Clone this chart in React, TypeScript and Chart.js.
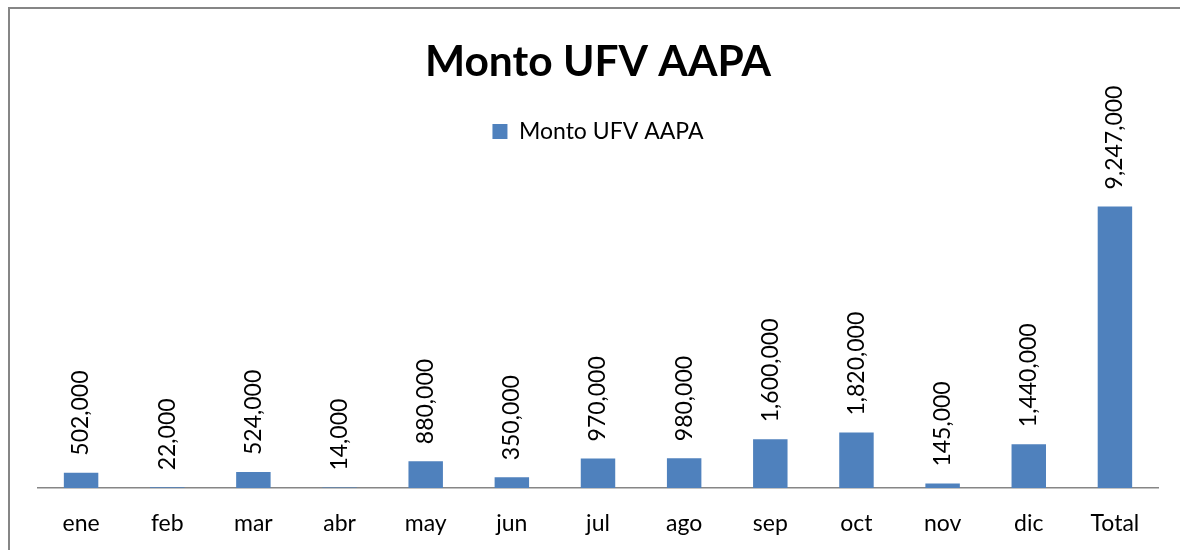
import React, { useEffect, useRef } from "react";
import { Chart, registerables } from "chart.js";

Chart.register(...registerables);

const categories = ["ene", "feb", "mar", "abr", "may", "jun", "jul", "ago", "sep", "oct", "nov", "dic", "Total"];
const montoValues = [502000, 22000, 524000, 14000, 880000, 350000, 970000, 980000, 1600000, 1820000, 145000, 1440000, 9247000];
const seriesName = "Monto UFV AAPA";
const chartTitle = "Monto UFV AAPA";
const yAxisMax = 11000000;

const FONT = "Lato, 'Noto Sans', sans-serif";
const BAR_COLOR = "#4F81BD";

const valueLabelPlugin = {
  id: "valueLabels",
  afterDatasetsDraw(chart: any) {
    const ctx = chart.ctx;
    const meta = chart.getDatasetMeta(0);
    const data = chart.data.datasets[0].data as number[];
    ctx.save();
    ctx.fillStyle = "#000";
    ctx.font = `23px ${FONT}`;
    ctx.textAlign = "left";
    ctx.textBaseline = "middle";
    meta.data.forEach((bar: any, i: number) => {
      const txt = data[i].toLocaleString("en-US");
      ctx.save();
      ctx.translate(bar.x, bar.y - 17);
      ctx.rotate(-Math.PI / 2);
      ctx.fillText(txt, 0, 0);
      ctx.restore();
    });
    ctx.restore();
  },
};

export default function App() {
  const ref = useRef<HTMLCanvasElement | null>(null);
  useEffect(() => {
    if (!ref.current) return;
    const chart = new Chart(ref.current, {
      type: "bar",
      data: {
        labels: categories,
        datasets: [
          {
            label: seriesName,
            data: montoValues,
            backgroundColor: BAR_COLOR,
            borderWidth: 0,
            categoryPercentage: 1,
            barPercentage: 0.4,
          },
        ],
      },
      options: {
        responsive: false,
        animation: false,
        layout: { padding: { left: 38, right: 22, top: 0, bottom: 0 } },
        plugins: {
          title: {
            display: true,
            text: chartTitle,
            color: "#000",
            font: { family: FONT, size: 42.5, weight: "bold", lineHeight: 1.2 },
            padding: { top: 37, bottom: 22 },
          },
          legend: {
            display: true,
            position: "top",
            labels: {
              color: "#000",
              font: { family: FONT, size: 23 },
              boxWidth: 15,
              boxHeight: 15,
              padding: 10,
            },
          },
          tooltip: { enabled: false },
        },
        scales: {
          x: {
            grid: { display: false, drawTicks: false },
            border: { display: true, color: "#868686", width: 1.5 },
            ticks: { color: "#000", font: { family: FONT, size: 23 }, padding: 22, maxRotation: 0 },
            afterFit: (scale: any) => {
              scale.height = 62;
            },
          },
          y: {
            display: false,
            min: 0,
            max: yAxisMax,
          },
        },
      },
      plugins: [valueLabelPlugin],
    });
    return () => chart.destroy();
  }, []);

  return (
    <div style={{ position: "absolute", left: 0, top: 0, width: 1180, height: 550, overflow: "hidden", background: "#fff" }}>
      <canvas ref={ref} width={1180} height={550} style={{ position: "absolute", left: 0, top: 0 }} />
      <div
        style={{
          position: "absolute",
          left: 8,
          top: 7,
          width: 1200,
          height: 600,
          borderTop: "2px solid #868686",
          borderLeft: "2px solid #868686",
          pointerEvents: "none",
        }}
      />
    </div>
  );
}
